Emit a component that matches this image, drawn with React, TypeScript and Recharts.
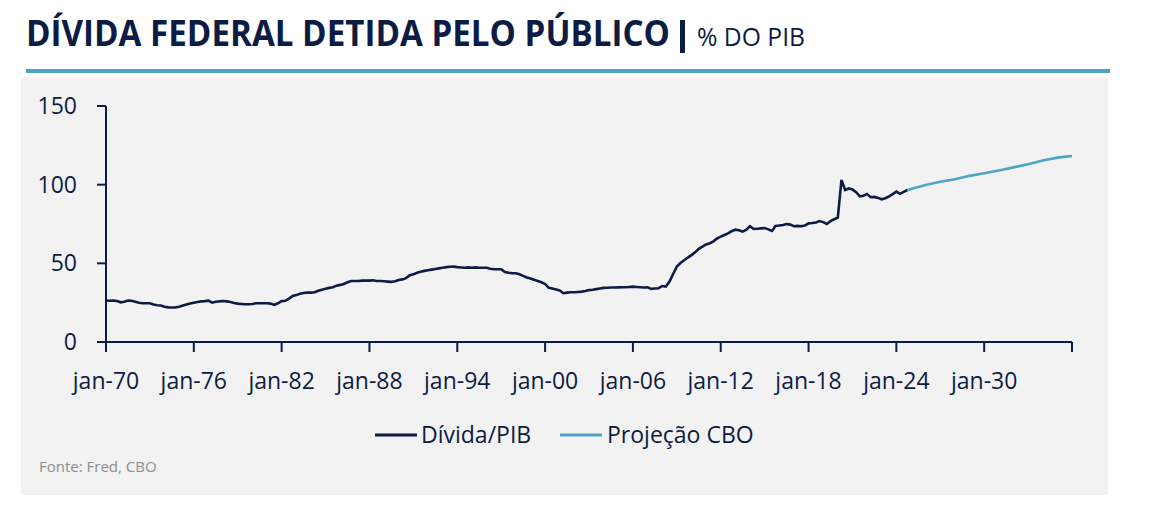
import React from 'react';
import { LineChart, Line, XAxis, YAxis } from 'recharts';

// quarterly debt held by the public, % of GDP, starting 1970 Q1
const START_YEAR = 1970;
const debtQuarterly = [
  26.4, 26.2, 26.4, 26.0, // 1970
  25.2, 25.6, 26.3, 26.2,
  25.6, 25.0, 24.6, 24.6,
  24.6, 23.8, 23.4, 23.2,
  22.4, 22.0, 21.9, 22.0,
  22.4, 23.2, 23.8, 24.4, // 1975
  25.0, 25.4, 25.8, 26.0,
  26.3, 25.0, 25.6, 25.8,
  26.1, 25.8, 25.4, 24.8,
  24.4, 24.2, 24.0, 24.0,
  24.2, 24.6, 24.6, 24.6, // 1980
  24.6, 24.4, 23.6, 24.6,
  26.0, 26.2, 27.6, 29.2,
  29.8, 30.6, 31.2, 31.4,
  31.4, 31.6, 32.6, 33.2,
  33.8, 34.4, 34.8, 35.8, // 1985
  36.3, 36.9, 38.0, 38.8,
  38.8, 38.8, 39.0, 39.0,
  39.0, 39.2, 38.8, 38.8,
  38.6, 38.4, 38.2, 38.6,
  39.4, 39.8, 40.6, 42.4, // 1990
  43.0, 44.0, 44.6, 45.2,
  45.6, 46.0, 46.4, 46.8,
  47.2, 47.6, 47.8, 47.9,
  47.6, 47.4, 47.2, 47.4,
  47.2, 47.4, 47.2, 47.2, // 1995
  47.2, 46.6, 46.2, 46.2,
  46.2, 44.4, 44.0, 43.8,
  43.7, 43.0, 42.0, 41.0,
  40.4, 39.6, 38.8, 38.0,
  36.9, 34.4, 34.0, 33.4, // 2000
  32.7, 31.0, 31.4, 31.6,
  31.6, 31.8, 32.0, 32.4,
  33.0, 33.2, 33.6, 34.0,
  34.4, 34.5, 34.6, 34.6,
  34.7, 34.8, 34.8, 35.0, // 2005
  35.2, 35.0, 34.8, 34.6,
  34.8, 33.8, 34.0, 34.2,
  35.6, 35.2, 38.4, 43.2,
  47.9, 50.2, 52.0, 53.6,
  55.2, 57.0, 59.2, 60.6, // 2010
  62.0, 62.8, 64.0, 65.8,
  67.0, 68.0, 69.0, 70.4,
  71.4, 71.0, 70.2, 71.4,
  73.6, 71.8, 72.0, 72.2,
  72.4, 71.6, 70.6, 73.8, // 2015
  74.0, 74.4, 75.0, 74.6,
  73.6, 73.8, 73.6, 74.0,
  75.4, 75.6, 76.0, 76.9,
  76.2, 75.0, 76.8, 78.0,
  79.0, 103.0, 96.6, 97.6, // 2020
  97.0, 95.2, 92.6, 93.0,
  94.1, 92.0, 92.2, 91.6,
  90.7, 91.4, 92.6, 94.0,
  95.6, 94.2, 95.4, 96.6, // 2024
];

// CBO projection
const projectionYears = [2024.75, 2025, 2026, 2027, 2028, 2029, 2030, 2031, 2032, 2033, 2034, 2035, 2036];
const projectionValues = [96.6, 97.3, 99.8, 101.8, 103.5, 105.6, 107.2, 109.0, 111.0, 113.0, 115.4, 117.2, 118.2];

const xTicks = [1970, 1976, 1982, 1988, 1994, 2000, 2006, 2012, 2018, 2024, 2030, 2036];
const yTicks = [0, 50, 100, 150];
const seriesNames = ['Dívida/PIB', 'Projeção CBO'];

const NAVY = '#0c1c45';
const TEAL = '#4fa3c7';
const FONT = '"Open Sans", "Noto Sans", sans-serif';

const debtData = debtQuarterly.map((v, i) => ({ t: START_YEAR + i / 4, v }));
const projData = projectionYears.map((t, i) => ({ t, v: projectionValues[i] }));

const fmtYear = (y: number) => (y >= 2036 ? '' : 'jan-' + String(y).slice(2));

export default function App() {
  return (
    <div style={{ position: 'absolute', left: 0, top: 0, width: 1157, height: 508, background: '#fff', fontFamily: FONT }}>
      <div style={{ position: 'absolute', left: 21, top: 78, width: 1087, height: 417, background: '#f2f2f2' }} />
      <div style={{ position: 'absolute', left: 0, top: 0 }}>
        <LineChart width={1157} height={508} margin={{ top: 106, right: 85, bottom: 116, left: 26 }}>
          <XAxis
            type="number"
            dataKey="t"
            domain={[1970, 2036]}
            ticks={xTicks}
            tickFormatter={fmtYear}
            allowDataOverflow
            height={50}
            tickSize={10}
            tickMargin={21}
            axisLine={{ stroke: NAVY, strokeWidth: 2 }}
            tickLine={{ stroke: NAVY, strokeWidth: 2 }}
            tick={{ fill: NAVY, fontSize: 23, fontFamily: FONT }}
          />
          <YAxis
            domain={[0, 150]}
            ticks={yTicks}
            width={80}
            tickSize={9}
            tickMargin={20}
            axisLine={{ stroke: NAVY, strokeWidth: 2 }}
            tickLine={{ stroke: NAVY, strokeWidth: 2 }}
            tick={{ fill: NAVY, fontSize: 23, fontFamily: FONT }}
          />
          <Line data={debtData} dataKey="v" name={seriesNames[0]} stroke={NAVY} strokeWidth={2.6} dot={false} type="linear" isAnimationActive={false} />
          <Line data={projData} dataKey="v" name={seriesNames[1]} stroke={TEAL} strokeWidth={2.6} dot={false} type="linear" isAnimationActive={false} />
        </LineChart>
      </div>
      <svg width={1157} height={508} style={{ position: 'absolute', left: 0, top: 0, pointerEvents: 'none' }} fontFamily={FONT}>
        <text x={26} y={46} fontSize={35} fontWeight={700} fill={NAVY} textLength={644} lengthAdjust="spacingAndGlyphs">DÍVIDA FEDERAL DETIDA PELO PÚBLICO</text>
        <rect x={680} y={20} width={5} height={33} fill={NAVY} />
        <text x={697} y={46} fontSize={26} fill={NAVY} textLength={108} lengthAdjust="spacingAndGlyphs">% DO PIB</text>
        <rect x={26} y={69} width={1084} height={4} fill={TEAL} />
        <line x1={375} x2={417} y1={435} y2={435} stroke={NAVY} strokeWidth={3} />
        <text x={421} y={443} fontSize={23} fill={NAVY}>{seriesNames[0]}</text>
        <line x1={560} x2={602} y1={435} y2={435} stroke={TEAL} strokeWidth={3} />
        <text x={607} y={443} fontSize={23} fill={NAVY}>{seriesNames[1]}</text>
        <text x={39} y={472} fontSize={15} fill="#8c8c8c">Fonte: Fred, CBO</text>
      </svg>
    </div>
  );
}
